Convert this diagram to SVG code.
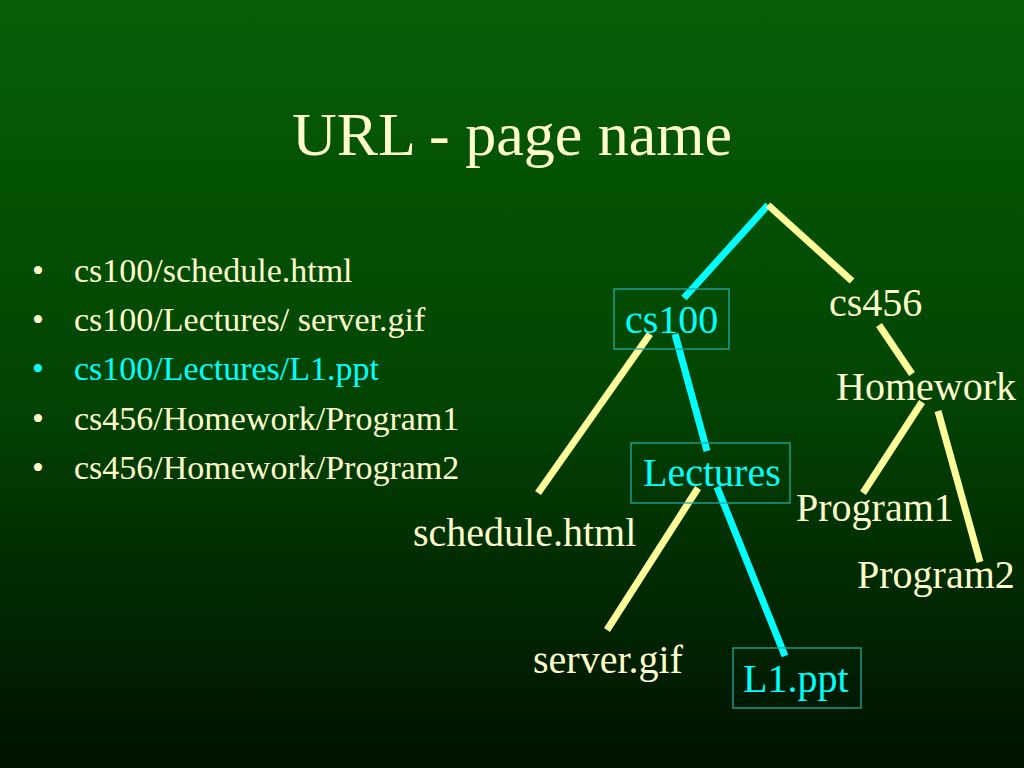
<svg xmlns="http://www.w3.org/2000/svg" width="1024" height="768" viewBox="0 0 1024 768">
<defs>
<linearGradient id="bg" x1="0" y1="0" x2="0" y2="1">
<stop offset="0" stop-color="#065e06"/>
<stop offset="0.5" stop-color="#024502"/>
<stop offset="1" stop-color="#001100"/>
</linearGradient>
<style>
text{font-family:"Liberation Serif","Times New Roman",serif;}
.cream{fill:#ffffcc;}
.cyan{fill:#00ffff;}
.title{font-size:62px;}
.bul{font-size:34px;}
.item{font-size:34px;}
.lab{font-size:40px;}
.box{fill:none;stroke:#22aaa0;stroke-width:1.3;}
.ly{stroke:#ffff99;stroke-width:7;stroke-linecap:butt;}
.lc{stroke:#00ffff;stroke-width:7;stroke-linecap:butt;}
</style>
</defs>
<rect width="1024" height="768" fill="url(#bg)"/>
<text class="title cream" x="512" y="155" text-anchor="middle">URL - page name</text>
<g id="bullets">
<text class="bul cream" x="32" y="282">•</text><text class="item cream" x="74" y="282">cs100/schedule.html</text>
<text class="bul cream" x="32" y="331">•</text><text class="item cream" x="74" y="331">cs100/Lectures/ server.gif</text>
<text class="bul cyan" x="32" y="380">•</text><text class="item cyan" x="74" y="380">cs100/Lectures/L1.ppt</text>
<text class="bul cream" x="32" y="430">•</text><text class="item cream" x="74" y="430">cs456/Homework/Program1</text>
<text class="bul cream" x="32" y="479">•</text><text class="item cream" x="74" y="479">cs456/Homework/Program2</text>
</g>
<g id="connectors">
<line class="lc" x1="768" y1="205" x2="684" y2="298"/>
<line class="ly" x1="768" y1="205" x2="852" y2="281"/>
<line class="ly" x1="879" y1="325" x2="912" y2="374"/>
<line class="ly" x1="922" y1="402" x2="863" y2="493"/>
<line class="ly" x1="938" y1="411" x2="980" y2="562"/>
<line class="ly" x1="650" y1="334" x2="538" y2="493"/>
<line class="lc" x1="675" y1="334" x2="707" y2="451"/>
<line class="ly" x1="698" y1="488" x2="607" y2="630"/>
<line class="lc" x1="717" y1="487" x2="785" y2="656"/>
</g>
<g id="cs100">
<rect class="box" x="614" y="289" width="115" height="60"/>
<text class="lab cyan" x="625" y="333">cs100</text>
</g>
<g id="cs456">
<text class="lab cream" x="829" y="316">cs456</text>
</g>
<g id="Homework">
<text class="lab cream" x="836" y="400">Homework</text>
</g>
<g id="Lectures">
<rect class="box" x="631" y="443" width="159" height="60"/>
<text class="lab cyan" x="643" y="486">Lectures</text>
</g>
<g id="Program1">
<text class="lab cream" x="796" y="521">Program1</text>
</g>
<g id="Program2">
<text class="lab cream" x="857" y="588">Program2</text>
</g>
<g id="schedule">
<text class="lab cream" x="413" y="546">schedule.html</text>
</g>
<g id="server">
<text class="lab cream" x="533" y="673">server.gif</text>
</g>
<g id="L1ppt">
<rect class="box" x="733" y="648" width="128" height="60"/>
<text class="lab cyan" x="743" y="692">L1.ppt</text>
</g>
</svg>
